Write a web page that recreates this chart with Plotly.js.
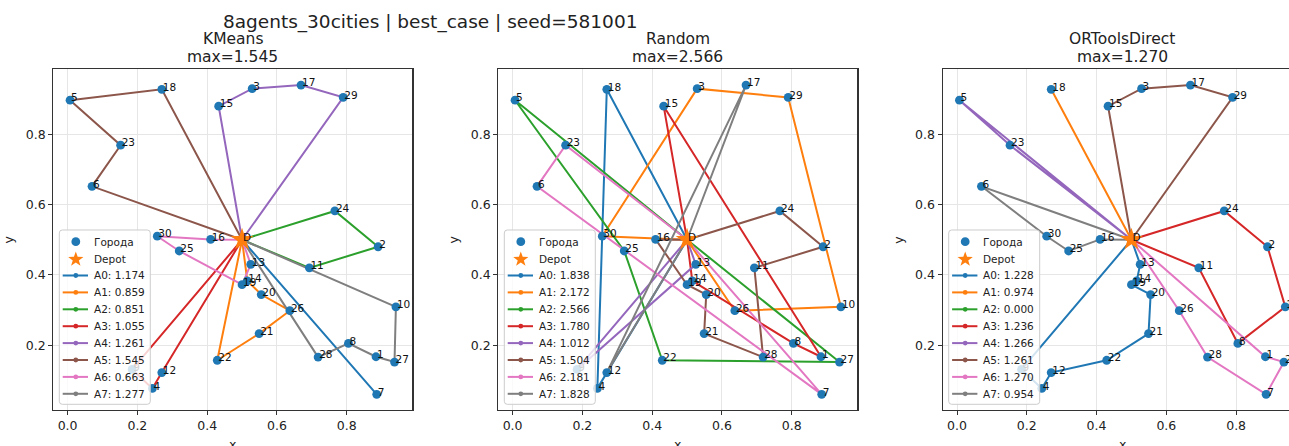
<!DOCTYPE html>
<html>
<head>
<meta charset="utf-8">
<script src="https://cdn.plot.ly/plotly-3.0.1.min.js"></script>
<style>html,body{margin:0;padding:0;overflow:hidden;background:#fff;}</style>
</head>
<body>
<div id="chart"></div>
<script>
// ---------------- data ----------------
const suptitleText = "8agents_30cities | best_case | seed=581001";
// index 0 = depot, 1..30 = cities
const cityLabels = ["D","1","2","3","4","5","6","7","8","9","10","11","12","13","14","15","16","17","18","19","20","21","22","23","24","25","26","27","28","29","30"];
const cityX = [0.500, 0.884, 0.890, 0.529, 0.243, 0.007, 0.070, 0.886, 0.805, 0.185, 0.941,
               0.693, 0.270, 0.525, 0.515, 0.433, 0.410, 0.669, 0.270, 0.500, 0.555,
               0.549, 0.429, 0.152, 0.766, 0.320, 0.637, 0.937, 0.718, 0.790, 0.257];
const cityY = [0.500, 0.167, 0.480, 0.930, 0.077, 0.897, 0.652, 0.060, 0.205, 0.131, 0.309,
               0.420, 0.122, 0.430, 0.383, 0.880, 0.501, 0.940, 0.928, 0.372, 0.344,
               0.233, 0.157, 0.769, 0.582, 0.468, 0.298, 0.152, 0.166, 0.905, 0.510];

const methodNames = ["KMeans", "Random", "ORToolsDirect"];
const agentNames = ["A0","A1","A2","A3","A4","A5","A6","A7"];
const cityLegendName = "Города";
const depotLegendName = "Depot";

const kmeansRoutes = [[7],[14,20,26,21,22],[24,2,11],[9,4,12],[15,3,17,29],[18,5,23,6],[16,30,25,19,13],[10,27,1,8,28]];
const kmeansLengths = [1.174, 0.859, 0.851, 1.055, 1.261, 1.545, 0.663, 1.277];

const randomRoutes = [[18,4],[26,10,29,3,30],[5,25,22,27],[15,1,8,14],[9,13],[24,2,11,28,21,20,19,16],[23,6,7],[17,12]];
const randomLengths = [1.838, 2.172, 2.566, 1.780, 1.012, 1.504, 2.181, 1.828];

const ortoolsRoutes = [[13,14,19,20,21,22,12,4,9],[18],[],[24,2,10,8,11],[23,5],[15,3,17,29],[26,28,7,27,1],[6,30,25,16]];
const ortoolsLengths = [1.228, 0.974, 0.000, 1.236, 1.266, 1.261, 1.270, 0.954];

const xTicks = [0.0, 0.2, 0.4, 0.6, 0.8];
const yTicks = [0.2, 0.4, 0.6, 0.8];

// ---------------- style / layout ----------------
const cityColor = "#1f77b4", depotColor = "#ff7f0e";
const agentColors = ["#1f77b4","#ff7f0e","#2ca02c","#d62728","#9467bd","#8c564b","#e377c2","#7f7f7f"];
const FONT = "DejaVu Sans, Liberation Sans, sans-serif";
const W = 1310, H = 470;
const plotLefts = [53.3, 498.3, 942.7];
const plotW = 359, plotTop = 69.3, plotBottom = 410;
const X = p => p / W;
const Y = p => (H - p) / H;
const P = (x, y) => X(x).toFixed(5) + "," + Y(y).toFixed(5);

const allRoutes = [kmeansRoutes, randomRoutes, ortoolsRoutes];
const allLengths = [kmeansLengths, randomLengths, ortoolsLengths];

const traces = [];
const shapes = [];
const annotations = [];
const layout = {
  width: W, height: H,
  margin: {l: 0, r: 0, t: 0, b: 0},
  paper_bgcolor: "#fff", plot_bgcolor: "#fff",
  font: {family: FONT, color: "#222"},
  showlegend: false
};

function starPath(cx, cy, R) {
  const pts = [];
  for (let i = 0; i < 10; i++) {
    const r = i % 2 === 0 ? R : R * 0.4;
    const ang = -Math.PI / 2 + i * Math.PI / 5;
    pts.push(P(cx + r * Math.cos(ang), cy + r * Math.sin(ang)));
  }
  return "M" + pts.join(" L") + " Z";
}

function addLegend(plotLeft, items) {
  const rowGap = 16.9, boxW = 91, rr = 3;
  const L = plotLeft + 6, B = 404.3;
  const firstRow = B - 10.5 - (items.length - 1) * rowGap;
  const T = firstRow - 11.7, R = L + boxW;
  shapes.push({
    type: "path", xref: "paper", yref: "paper", layer: "above",
    path: "M" + P(L + rr, T) + " L" + P(R - rr, T) + " Q" + P(R, T) + " " + P(R, T + rr) +
          " L" + P(R, B - rr) + " Q" + P(R, B) + " " + P(R - rr, B) +
          " L" + P(L + rr, B) + " Q" + P(L, B) + " " + P(L, B - rr) +
          " L" + P(L, T + rr) + " Q" + P(L, T) + " " + P(L + rr, T) + " Z",
    fillcolor: "rgba(255,255,255,0.8)", line: {color: "#cccccc", width: 1}
  });
  const sx = L + 16.5;
  items.forEach((it, i) => {
    const cy = firstRow + i * rowGap;
    if (it.kind === "city") {
      shapes.push({type: "circle", xref: "paper", yref: "paper", layer: "above",
        x0: X(sx - 4.4), x1: X(sx + 4.4), y0: Y(cy + 4.4), y1: Y(cy - 4.4),
        fillcolor: it.color, line: {width: 0}});
    } else if (it.kind === "depot") {
      shapes.push({type: "path", xref: "paper", yref: "paper", layer: "above",
        path: starPath(sx, cy + 0.8, 8), fillcolor: it.color, line: {width: 0}});
    } else {
      shapes.push({type: "line", xref: "paper", yref: "paper", layer: "above",
        x0: X(L + 3.4), x1: X(L + 28.7), y0: Y(cy), y1: Y(cy),
        line: {color: it.color, width: 2}});
      shapes.push({type: "circle", xref: "paper", yref: "paper", layer: "above",
        x0: X(sx - 2.4), x1: X(sx + 2.4), y0: Y(cy + 2.4), y1: Y(cy - 2.4),
        fillcolor: it.color, line: {width: 0}});
    }
    annotations.push({text: it.label, x: X(L + 32.6), y: Y(cy), xref: "paper", yref: "paper",
      xanchor: "left", yanchor: "middle", showarrow: false,
      font: {family: FONT, size: 10.5, color: "#222"}});
  });
}

methodNames.forEach((m, k) => {
  const s = k === 0 ? "" : String(k + 1);
  const xa = "x" + s, ya = "y" + s;
  const routes = allRoutes[k], lens = allLengths[k];

  routes.forEach((r, a) => {
    const seq = [0].concat(r).concat([0]);
    traces.push({
      type: "scatter", mode: "lines+markers",
      x: seq.map(i => cityX[i]), y: seq.map(i => cityY[i]),
      xaxis: xa, yaxis: ya,
      name: agentNames[a] + ": " + lens[a].toFixed(3),
      line: {color: agentColors[a], width: 2},
      marker: {color: agentColors[a], size: 4.5}, hoverinfo: "skip"
    });
  });
  traces.push({
    type: "scatter", mode: "markers", x: cityX.slice(1), y: cityY.slice(1),
    xaxis: xa, yaxis: ya, name: cityLegendName,
    marker: {size: 8.8, color: cityColor}, hoverinfo: "skip"
  });
  traces.push({
    type: "scatter", mode: "markers", x: [cityX[0]], y: [cityY[0]],
    xaxis: xa, yaxis: ya, name: depotLegendName,
    marker: {size: 17, color: depotColor, symbol: "star"}, hoverinfo: "skip"
  });
  traces.push({
    type: "scatter", mode: "text",
    x: cityX.map(v => v + 0.003), y: cityY.map(v => v + 0.004),
    text: cityLabels, textposition: "middle right",
    textfont: {family: FONT, size: 10.5, color: "#111"},
    xaxis: xa, yaxis: ya, hoverinfo: "skip"
  });

  const left = plotLefts[k];
  const axisCommon = {
    showgrid: true, gridcolor: "#e6e6e6", gridwidth: 1, zeroline: false,
    showline: true, mirror: true, linecolor: "#333", linewidth: 1.2,
    ticks: "outside", ticklen: 4, tickwidth: 1, tickcolor: "#333",
    tickformat: ".1f", tickfont: {family: FONT, size: 12.5, color: "#222"}
  };
  layout["xaxis" + s] = Object.assign({
    domain: [X(left), X(left + plotW)], anchor: ya,
    range: [-0.041, 0.988], tickvals: xTicks
  }, axisCommon);
  layout["yaxis" + s] = Object.assign({
    domain: [Y(plotBottom), Y(plotTop)], anchor: xa,
    range: [0.0155, 0.985], tickvals: yTicks
  }, axisCommon);

  const items = [{kind: "city", color: cityColor, label: cityLegendName},
                 {kind: "depot", color: depotColor, label: depotLegendName}];
  agentNames.forEach((a, i) => items.push({kind: "route", color: agentColors[i], label: a + ": " + lens[i].toFixed(3)}));
  addLegend(left, items);

  const cx = left + plotW / 2;
  const mx = Math.max.apply(null, lens).toFixed(3);
  annotations.push({text: m, x: X(cx), y: Y(39.5), xref: "paper", yref: "paper",
    xanchor: "center", yanchor: "middle", showarrow: false, font: {family: FONT, size: 15.5, color: "#222"}});
  annotations.push({text: "max=" + mx, x: X(cx), y: Y(57.3), xref: "paper", yref: "paper",
    xanchor: "center", yanchor: "middle", showarrow: false, font: {family: FONT, size: 15.5, color: "#222"}});
  annotations.push({text: "y", x: X(left - 44.5), y: Y((plotTop + plotBottom) / 2), xref: "paper", yref: "paper",
    xanchor: "center", yanchor: "middle", textangle: -90, showarrow: false, font: {family: FONT, size: 12.5, color: "#222"}});
  annotations.push({text: "x", x: X(cx), y: Y(444), xref: "paper", yref: "paper",
    xanchor: "center", yanchor: "middle", showarrow: false, font: {family: FONT, size: 12.5, color: "#222"}});
});

annotations.push({text: suptitleText, x: X(430), y: Y(22.3), xref: "paper", yref: "paper",
  xanchor: "center", yanchor: "middle", showarrow: false, font: {family: FONT, size: 18.5, color: "#222"}});

layout.shapes = shapes;
layout.annotations = annotations;

Plotly.newPlot("chart", traces, layout, {displayModeBar: false, staticPlot: true});
</script>
</body>
</html>
